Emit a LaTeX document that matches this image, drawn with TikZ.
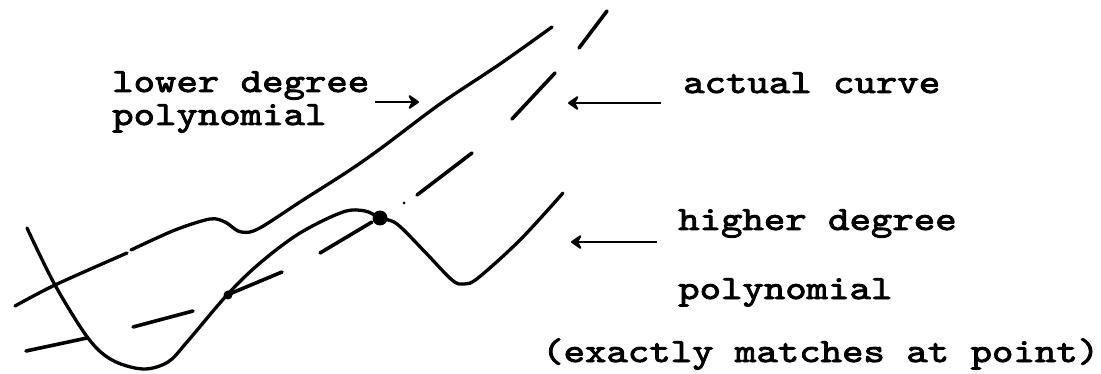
\documentclass[tikz,border=0pt]{standalone}
\usepackage{fontspec}
\newfontfamily\tw[FakeStretch=1.2,FakeBold=2.6]{lmmono10-regular.otf}
\usetikzlibrary{arrows.meta}
\begin{document}
\begin{tikzpicture}[x=1pt,y=-1pt,
  curve/.style={line width=3.3pt,line cap=round,line join=round},
  dashseg/.style={line width=3.6pt,line cap=round},
  lbl/.style={font=\tw\fontsize{34}{40}\selectfont,inner sep=0pt,anchor=base west},
  arr/.style={line width=2.8pt,-{Stealth[length=13pt,width=18pt,inset=5pt,round]}}]
\useasboundingbox (0,0) rectangle (1101,374);
% labels
\node[lbl] (lo1) at (112,92) {lower degree};
\node[lbl] (lo2) at (112,125) {polynomial};
\node[lbl] (ac) at (683,93) {actual curve};
\node[lbl] (hi1) at (678,230) {higher degree};
\node[lbl] (hi2) at (678,299) {polynomial};
\node[lbl] (ex) at (542,362) {(exactly matches at point)};
% lower degree polynomial
\draw[curve] plot[smooth,tension=0.5] coordinates {(15,306) (55,285) (127,253)};
\draw[curve] plot[smooth,tension=0.5] coordinates {(131,250) (175,230) (210,219) (225,222) (238,231) (250,232) (265,225) (300,202) (347,172) (380,149) (440,104) (500,64) (552,27)};
% higher degree polynomial
\draw[curve] plot[smooth,tension=0.55] coordinates {(27,228) (55,285) (88,338) (112,360) (143,369) (168,362) (187,342) (227,295) (260,263) (300,233) (343,212) (365,211) (380,218) (397,224) (425,252) (452,280) (464,284) (478,278) (520,240) (563,193)};
% actual curve (dashed)
\draw[dashseg] (26,351) -- (87,338);
\draw[dashseg] (133,327) -- (193,311);
\draw[dashseg] (227,295) -- (282,272);
\draw[dashseg] (320,253) -- (372,222);
\draw[dashseg] (417,195) -- (472,153);
\draw[dashseg] (512,119) -- (555,73);
\draw[dashseg] (579,48) -- (607,11);
\fill (404,203) circle (1.5);
% matching points
\fill (380,218) circle (7.5);
\fill (228,295) circle (4.5);
% arrows
\coordinate (la) at (375,102); \coordinate (lb) at (419,102);
\coordinate (aa) at (661,103); \coordinate (ab) at (568,103);
\coordinate (ha) at (657,242); \coordinate (hb) at (571,242);
\draw[arr] (la) -- (lb);
\draw[arr] (aa) -- (ab);
\draw[arr] (ha) -- (hb);
\end{tikzpicture}
\end{document}
